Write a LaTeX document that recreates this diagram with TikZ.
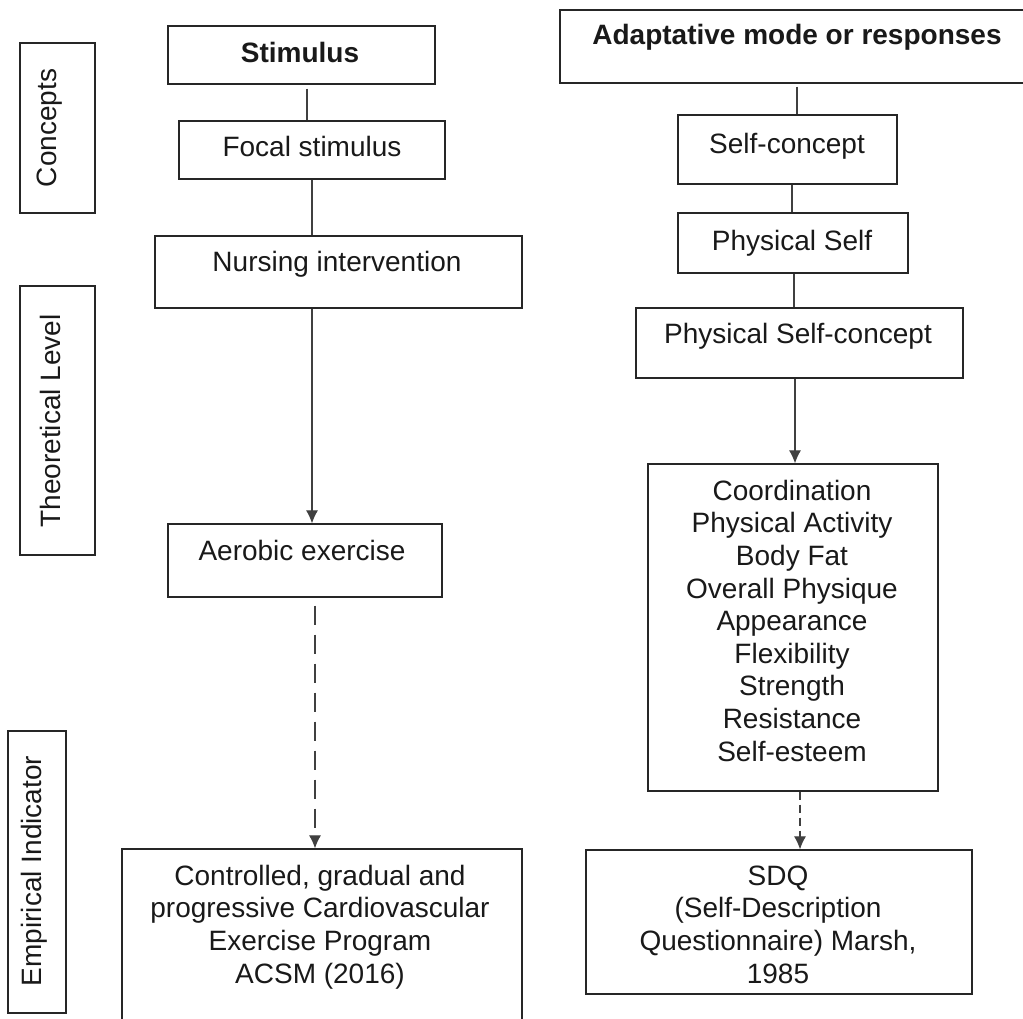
\documentclass[tikz,border=0pt]{standalone}
\usepackage{fontspec}
\setmainfont{Liberation Sans}
\usetikzlibrary{arrows.meta}
\begin{document}
\begin{tikzpicture}[x=1pt,y=-1pt,
  box/.style={draw=black!85, line width=1.3pt, inner sep=0pt, rectangle},
  txt/.style={inner sep=0pt, align=center, anchor=base, text=black!90,
    font=\fontsize{28}{32.6}\selectfont},
  btxt/.style={txt, font=\fontsize{28}{32.6}\selectfont\bfseries},
  vtxt/.style={inner sep=0pt, rotate=90, text=black!90,
    font=\fontsize{28}{32.6}\selectfont},
  conn/.style={draw=black!75, line width=1.1pt},
  arr/.style={conn, -{Latex[length=13pt,width=12pt]}},
  darrL/.style={arr, dash pattern=on 19pt off 10pt},
  darrR/.style={arr, dash pattern=on 8pt off 5pt}]
\useasboundingbox (0,0) rectangle (1023,1018);
\clip (0,0) rectangle (1023,1018);
% level labels
\node[box, minimum width=75, minimum height=170] (cpt) at (57.5,128) {};
\node[vtxt] (cptt) at (50,128) {Concepts};
\node[box, minimum width=75, minimum height=269] (theo) at (57.5,420.5) {};
\node[vtxt] (theot) at (50,421) {Theoretical Level};
\node[box, minimum width=58, minimum height=282] (emp) at (37,872) {};
\node[vtxt] (empt) at (34,871) {Empirical Indicator};
% column coordinates
\coordinate (lc) at (312,0);
\coordinate (rc) at (795,0);
% left column
\node[box, minimum width=267, minimum height=58] (stim) at (301.5,55) {};
\node[btxt] (stimt) at (300,62) {Stimulus};
\node[box, minimum width=266, minimum height=58] (focal) at (312,150) {};
\node[txt] (focalt) at (312,156) {Focal stimulus};
\node[box, minimum width=367, minimum height=72] (nurse) at (338.5,272) {};
\node[txt] (nurset) at (337,271) {Nursing intervention};
\node[box, minimum width=274, minimum height=73] (aero) at (305,560.5) {};
\node[txt] (aerot) at (302,560) {Aerobic exercise};
\node[box, minimum width=400, minimum height=191] (ctrl) at (322,944.5) {};
\node[txt] (ctrlt) at (320,983) {Controlled, gradual and\\progressive Cardiovascular\\Exercise Program\\ACSM (2016)};
% right column
\node[box, minimum width=480, minimum height=73] (adapt) at (800,46.5) {};
\node[btxt] (adaptt) at (797,44) {Adaptative mode or responses};
\node[box, minimum width=219, minimum height=69] (self) at (787.5,149.5) {};
\node[txt] (selft) at (787,153) {Self-concept};
\node[box, minimum width=230, minimum height=60] (phys) at (793,243) {};
\node[txt] (physt) at (792,250) {Physical Self};
\node[box, minimum width=327, minimum height=70] (psc) at (799.5,343) {};
\node[txt] (psct) at (798,343) {Physical Self-concept};
\node[box, minimum width=290, minimum height=327] (coord) at (793,627.5) {};
\node[txt] (coordt) at (792,761) {Coordination\\Physical Activity\\Body Fat\\Overall Physique\\Appearance\\Flexibility\\Strength\\Resistance\\Self-esteem};
\node[box, minimum width=386, minimum height=144] (sdq) at (779,922) {};
\node[txt] (sdqt) at (778,983) {SDQ\\(Self-Description\\Questionnaire) Marsh,\\1985};
% connectors left
\draw[conn] ([xshift=-5pt,yshift=-4pt]stim.south -| lc) -- ([xshift=-5pt]focal.north -| lc);
\draw[conn] (focal.south -| lc) -- (nurse.north -| lc);
\draw[arr] (nurse.south -| lc) -- (aero.north -| lc);
\draw[darrL] ([xshift=3pt,yshift=-8pt]aero.south -| lc) -- ([xshift=3pt]ctrl.north -| lc);
% connectors right
\draw[conn] ([xshift=2pt,yshift=-3pt]adapt.south -| rc) -- ([xshift=2pt]self.north -| rc);
\draw[conn] ([xshift=-3pt]self.south -| rc) -- ([xshift=-3pt]phys.north -| rc);
\draw[conn] ([xshift=-1pt]phys.south -| rc) -- ([xshift=-1pt]psc.north -| rc);
\draw[arr] (psc.south -| rc) -- (coord.north -| rc);
\draw[darrR] ([xshift=5pt]coord.south -| rc) -- ([xshift=5pt]sdq.north -| rc);
\end{tikzpicture}
\end{document}
